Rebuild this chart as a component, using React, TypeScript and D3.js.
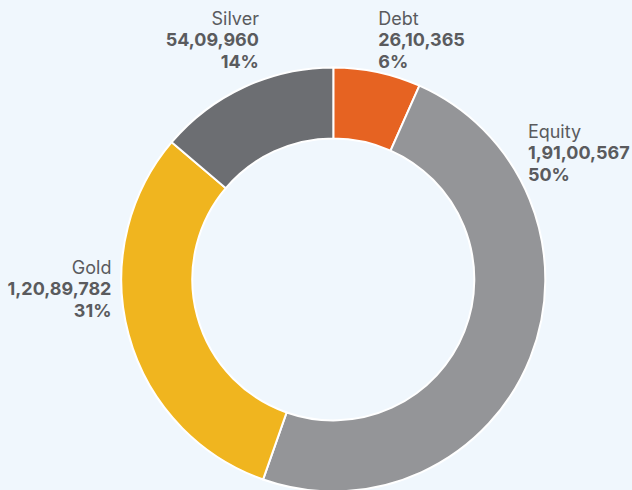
import { pie, arc, formatLocale, PieArcDatum } from 'd3'

// holdings split
const categories = ['Debt', 'Equity', 'Gold', 'Silver']
const amounts = [2610365, 19100567, 12089782, 5409960]
const shareLabels = ['6%', '50%', '31%', '14%']
const sliceColors = ['#e66322', '#949598', '#f0b51f', '#6c6e72']

const width = 632
const height = 490
const cx = 333.3
const cy = 279.4
const outerRadius = 212
const innerRadius = 141
const lineHeight = 21.7

// where each label block sits (angle clockwise from 12 o'clock, distance from centre)
// the anchor is the baseline of the last line, on the side nearest the ring
const labelPlacement = [
  { angle: 12, radius: 216 },
  { angle: 63.2, radius: 218 },
  { angle: 260.4, radius: 225 },
  { angle: 340.6, radius: 224 }
]

// indian digit grouping, e.g. 1,91,00,567
const inr = formatLocale({
  decimal: '.',
  thousands: ',',
  grouping: [3, 2, 2, 2, 2, 2],
  currency: ['₹', '']
}).format(',d')

type Slice = { name: string; amount: number; color: string; share: string }

const slices: Slice[] = categories.map((name, i) => ({
  name,
  amount: amounts[i],
  color: sliceColors[i],
  share: shareLabels[i]
}))

export default function App() {
  const layout = pie<Slice>()
    .value(d => d.amount)
    .sort(null)
    .startAngle(0)
    .endAngle(2 * Math.PI)

  const arcGen = arc<PieArcDatum<Slice>>()
    .innerRadius(innerRadius)
    .outerRadius(outerRadius)

  const arcs = layout(slices)

  return (
    <div style={{ position: 'fixed', left: 0, top: 0, width, height, background: '#f0f7fd' }}>
      <svg width={width} height={height} style={{ display: 'block' }}>
        <g transform={`translate(${cx},${cy})`}>
          {arcs.map(a => (
            <path
              key={a.data.name}
              d={arcGen(a) || ''}
              fill={a.data.color}
              stroke='#ffffff'
              strokeWidth={2}
            />
          ))}
          {arcs.map((a, i) => {
            const p = labelPlacement[i]
            const rad = (p.angle * Math.PI) / 180
            const x = Math.sin(rad) * p.radius
            const y = -Math.cos(rad) * p.radius
            const anchor = p.angle < 180 ? 'start' : 'end'
            return (
              <text
                key={a.data.name}
                x={x}
                y={y}
                textAnchor={anchor}
                fontFamily='Inter, "Noto Sans", sans-serif'
                fontSize={18}
                fill='#5a5b5e'
              >
                <tspan x={x} y={y - 2 * lineHeight} fontWeight={400}>{a.data.name}</tspan>
                <tspan x={x} y={y - lineHeight} fontWeight={700}>{inr(a.data.amount)}</tspan>
                <tspan x={x} y={y} fontWeight={700}>{a.data.share}</tspan>
              </text>
            )
          })}
        </g>
      </svg>
    </div>
  )
}
